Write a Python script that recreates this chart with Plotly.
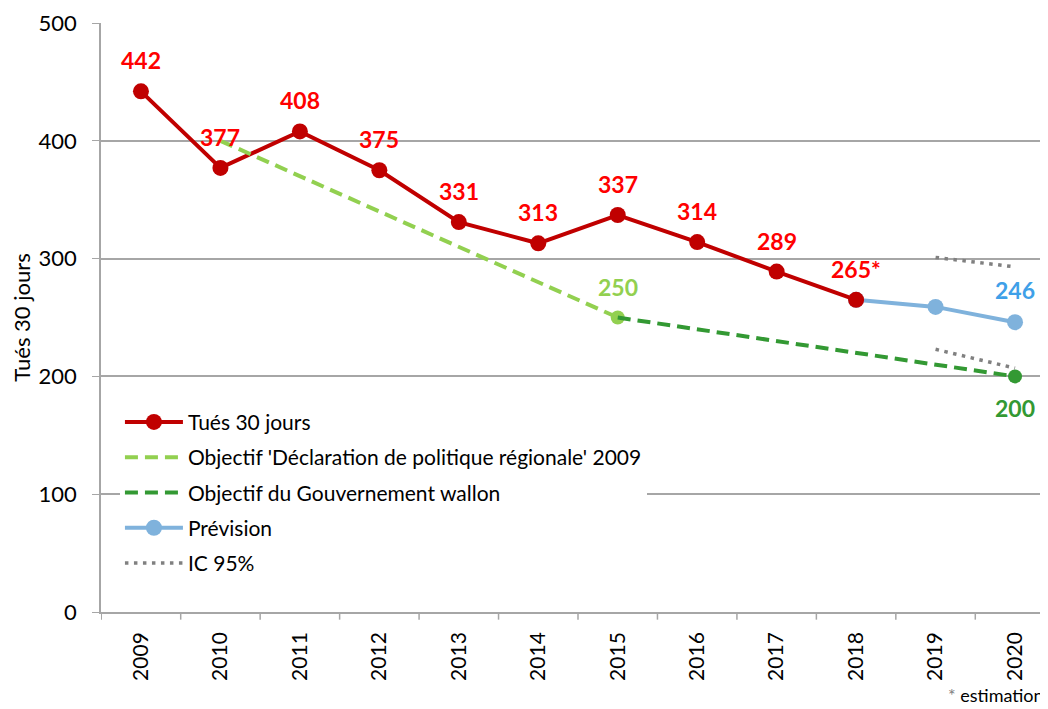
import plotly.graph_objects as go

years = [2009, 2010, 2011, 2012, 2013, 2014, 2015, 2016, 2017, 2018, 2019, 2020]
tues_years = [2009, 2010, 2011, 2012, 2013, 2014, 2015, 2016, 2017, 2018]
tues = [442, 377, 408, 375, 331, 313, 337, 314, 289, 265]
dpr_years = [2010, 2015]
dpr = [400, 250]
gouv_years = [2015, 2020]
gouv = [250, 200]
prev_years = [2018, 2019, 2020]
prevision = [265, 259, 246]
ic_years = [2019, 2020]
ic_high = [301, 293]
ic_low = [223, 207]

FONT = "Lato, Noto Sans, sans-serif"
RED = "#C00000"
LGREEN = "#92D050"
DGREEN = "#339933"
BLUE = "#7FB2DC"
GRAY = "#808080"
AXIS = "#A6A6A6"

fig = go.Figure()

# forecast first so the red 2018 marker sits on top
fig.add_trace(go.Scatter(
    x=prev_years, y=prevision, mode="lines+markers", name="Prévision",
    legendrank=4, legendgroup="prev",
    line=dict(color=BLUE, width=4), marker=dict(color=BLUE, size=16),
))
fig.add_trace(go.Scatter(
    x=tues_years, y=tues, mode="lines+markers", name="Tués 30 jours",
    legendrank=1, legendgroup="tues",
    line=dict(color=RED, width=4), marker=dict(color=RED, size=16),
))
fig.add_trace(go.Scatter(
    x=dpr_years, y=dpr, mode="lines",
    name="Objectif 'Déclaration de politique régionale' 2009",
    legendrank=2, legendgroup="dpr",
    line=dict(color=LGREEN, width=4, dash="13px,7px"),
))
fig.add_trace(go.Scatter(
    x=dpr_years[-1:], y=dpr[-1:], mode="markers", showlegend=False,
    marker=dict(color=LGREEN, size=14),
))
fig.add_trace(go.Scatter(
    x=gouv_years, y=gouv, mode="lines",
    name="Objectif du Gouvernement wallon",
    legendrank=3, legendgroup="gouv",
    line=dict(color=DGREEN, width=4, dash="13px,7px"),
))
fig.add_trace(go.Scatter(
    x=gouv_years[-1:], y=gouv[-1:], mode="markers", showlegend=False,
    marker=dict(color=DGREEN, size=14),
))
fig.add_trace(go.Scatter(
    x=ic_years, y=ic_high, mode="lines", name="IC 95%",
    legendrank=5, legendgroup="ic",
    line=dict(color=GRAY, width=3.5, dash="3.5px,5.5px"),
))
fig.add_trace(go.Scatter(
    x=ic_years, y=ic_low, mode="lines", name="IC 95%", showlegend=False,
    legendgroup="ic",
    line=dict(color=GRAY, width=3.5, dash="3.5px,5.5px"),
))

# data labels
label_font = dict(family=FONT, size=23, color="#FF0000")
for x, y in zip(tues_years, tues):
    txt = "<b>%d</b>" % y
    if x == 2018:
        txt = "<b>%d*</b>" % y
    fig.add_annotation(x=x, y=y, text=txt, showarrow=False, yshift=31,
                       font=label_font)
fig.add_annotation(x=2015, y=250, text="<b>250</b>", showarrow=False, yshift=31,
                   font=dict(label_font, color=LGREEN))
fig.add_annotation(x=2020, y=246, text="<b>246</b>", showarrow=False, yshift=32,
                   font=dict(label_font, color="#3FA0E8"))
fig.add_annotation(x=2020, y=200, text="<b>200</b>", showarrow=False, yshift=-32,
                   font=dict(label_font, color=DGREEN))
fig.add_annotation(x=1, y=0, xref="paper", yref="paper", xanchor="right",
                   yanchor="bottom", yshift=-96, xshift=-2, showarrow=False,
                   text="<span style='color:#808080'>*</span> estimation",
                   font=dict(family=FONT, size=18, color="black"))

# the page body adds an 8px margin, so the figure is 8px smaller than the window
fig.update_layout(
    width=1040, height=701,
    margin=dict(l=93, r=0, t=15, b=97),
    plot_bgcolor="white", paper_bgcolor="white",
    font=dict(family=FONT, size=19, color="black"),
    showlegend=True,
    legend=dict(x=0.02, y=0.357, xanchor="left", yanchor="top",
                bgcolor="white", font=dict(family=FONT, size=21),
                tracegroupgap=5, itemwidth=58),
    xaxis=dict(
        tickmode="array", tickvals=years, ticktext=[str(y) for y in years],
        range=[2008.497, 2020.415], tickangle=-90, automargin=False,
        showgrid=False, showline=True, linecolor=AXIS, linewidth=1.5,
        ticks="", tickfont=dict(size=21), zeroline=False,
        ticklabelstandoff=10,
    ),
    yaxis=dict(
        range=[0, 500], dtick=100, showgrid=True, gridcolor=AXIS,
        gridwidth=1.5, showline=True, linecolor=AXIS, linewidth=1.5,
        ticks="outside", ticklen=7, tickcolor=AXIS, zeroline=False,
        automargin=False, ticklabelstandoff=11,
        title=dict(text="Tués 30 jours", font=dict(size=22), standoff=8),
        tickfont=dict(size=22),
    ),
)

# category boundary ticks on x axis
for b in [y + 0.5 for y in [2008] + years]:
    fig.add_shape(type="line", xref="x", yref="paper", x0=b, x1=b, y0=0, y1=-0.013,
                  line=dict(color=AXIS, width=1.5))

fig.write_html("out.html")
